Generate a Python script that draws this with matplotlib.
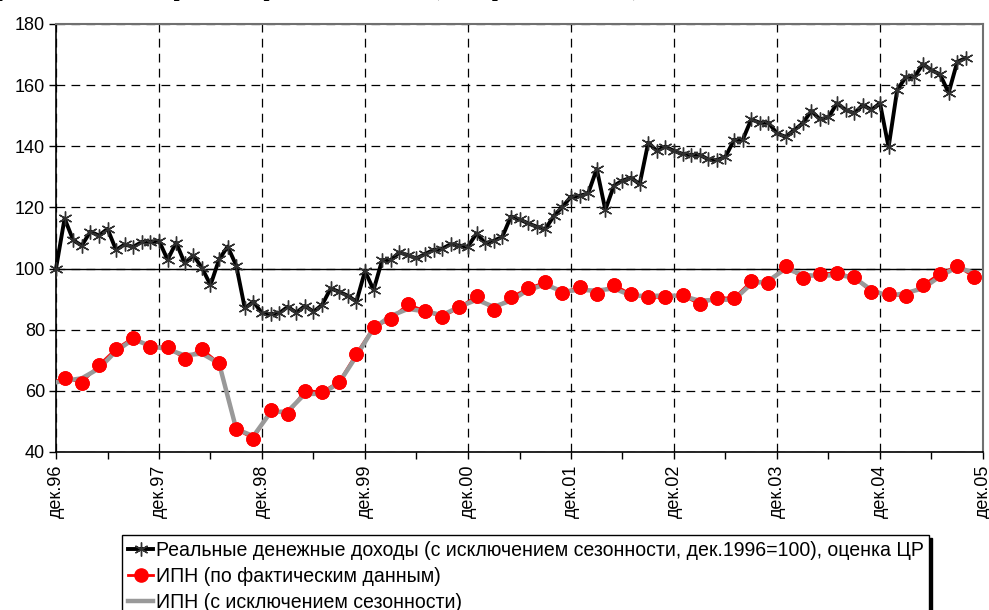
import matplotlib
matplotlib.use("Agg")
import matplotlib.pyplot as plt
import numpy as np

plt.rcParams['font.family'] = ['Liberation Sans', 'DejaVu Sans']

# Months counted from Dec 1996 (0 = дек.96)
income_months = list(range(0, 107))
income = [100.0, 116.4, 109.3, 107.5, 112.1, 110.8, 113.0, 106.1, 107.9, 107.1,
          108.7, 108.8, 109.1, 102.9, 108.5, 101.7, 104.3, 100.3, 94.6, 103.0,
          107.2, 101.0, 87.0, 89.2, 85.4, 85.1, 85.4, 87.5, 85.6, 87.8,
          85.9, 88.1, 93.5, 92.4, 91.1, 89.2, 99.2, 93.0, 102.8, 102.8,
          105.3, 104.4, 103.3, 104.8, 106.1, 106.5, 108.0, 107.5, 107.2, 111.5,
          108.3, 109.1, 110.4, 117.0, 116.1, 114.8, 113.7, 112.9, 117.2, 120.2,
          123.5, 123.8, 124.6, 132.6, 119.2, 127.1, 128.8, 129.7, 127.6, 141.2,
          138.5, 139.9, 138.5, 137.5, 137.2, 137.2, 135.7, 135.5, 136.6, 142.1,
          142.1, 148.8, 147.7, 147.7, 144.2, 143.1, 145.3, 147.5, 151.6, 148.8,
          149.5, 154.1, 151.9, 150.8, 153.5, 151.9, 154.1, 139.7, 158.4, 162.6,
          162.6, 166.9, 164.9, 163.5, 157.5, 167.6, 168.9]

ipn_months = list(range(-1, 108, 2))
ipn_actual = [62.0,
              64.3, 62.7, 68.4, 73.7, 77.4, 74.3, 74.4, 70.5, 73.6, 69.0,
              47.5, 44.4, 53.6, 52.3, 60.1, 59.6, 63.0, 72.1, 80.8, 83.5,
              88.3, 86.1, 84.2, 87.3, 91.0, 86.5, 90.6, 93.5, 95.5, 91.9,
              94.1, 91.8, 94.6, 91.6, 90.6, 90.6, 91.2, 88.4, 90.5, 90.3,
              95.8, 95.4, 100.9, 96.9, 98.3, 98.5, 97.2, 92.3, 91.6, 90.9,
              94.6, 98.3, 100.8, 97.3]
ipn_sa = [62.3,
          63.3, 64.1, 67.3, 73.0, 76.9, 74.7, 73.6, 71.6, 72.2, 69.0,
          47.5, 45.2, 53.0, 53.3, 59.0, 59.0, 62.7, 71.4, 80.5, 84.5,
          86.8, 86.0, 84.8, 87.5, 89.8, 87.5, 89.5, 93.0, 94.8, 92.5,
          93.0, 92.8, 93.5, 91.2, 91.0, 91.2, 91.0, 89.5, 89.8, 89.8,
          95.0, 96.0, 100.0, 98.0, 97.5, 98.0, 97.0, 93.0, 91.0, 92.0,
          93.5, 97.5, 100.5, 98.5]

tick_months = list(range(0, 109, 12))
tick_labels = ["дек.96", "дек.97", "дек.98", "дек.99", "дек.00",
               "дек.01", "дек.02", "дек.03", "дек.04", "дек.05"]

label_income = "Реальные денежные доходы (с исключением сезонности, дек.1996=100), оценка ЦР"
label_actual = "ИПН (по фактическим данным)"
label_sa = "ИПН (с исключением сезонности)"
title = "Индекс потребительских настроений и реальные доходы (декабрь 1996 г. = 100)"

fig = plt.figure(figsize=(9.89, 6.10), dpi=100)
ax = fig.add_axes([56 / 989, (610 - 452) / 610, (983 - 56) / 989, 428 / 610])

ax.set_xlim(0, 108)
ax.set_ylim(40, 180)

# grid
ax.set_yticks(range(40, 181, 20))
ax.set_xticks(tick_months)
ax.set_xticks(range(0, 109, 6), minor=True)
ax.grid(True, which='major', color='black', linestyle=(0, (7, 5)), linewidth=0.9)
ax.axhline(100, color='black', linewidth=1.0, zorder=2)

ax.plot(income_months, income, color='black', linewidth=2.8,
        marker=(6, 2, 0), markersize=10, markeredgecolor='#303030',
        markeredgewidth=1.0, zorder=6, label=label_income, clip_on=False)

ax.plot(ipn_months, ipn_actual, color='#ff0000', linewidth=2.0,
        marker='o', markersize=9.5, markerfacecolor='#ff0000',
        markeredgecolor='#ff0000', markevery=slice(1, None),
        zorder=3, label=label_actual)
ax.plot(ipn_months, ipn_sa, color='#999999', linewidth=3.2, zorder=4,
        label=label_sa)
ax.plot(ipn_months[1:], ipn_actual[1:], linestyle='none', marker='o',
        markersize=9.5, markerfacecolor='#ff0000', markeredgecolor='#ff0000',
        zorder=5)

ax.set_xticklabels(tick_labels, rotation=90, fontsize=13)
ax.tick_params(axis='x', which='both', direction='out', length=5, width=1, pad=4)
ax.tick_params(axis='y', direction='out', length=5, width=1, labelsize=13, pad=3)

for s in ['left', 'bottom']:
    ax.spines[s].set_color('black')
    ax.spines[s].set_linewidth(1.2)
for s in ['top', 'right']:
    ax.spines[s].set_color('#707070')
    ax.spines[s].set_linewidth(1.5)

fig.text(640 / 989, 1.0 + 4 / 610, title, ha='right', va='baseline',
         fontsize=15, fontweight='bold', family=['Liberation Serif', 'DejaVu Serif'])

handles, labels = ax.get_legend_handles_labels()
leg = fig.legend(handles, labels, loc='upper left',
                 bbox_to_anchor=(122 / 989, (610 - 535) / 610),
                 fontsize=14.05, frameon=True, fancybox=False,
                 edgecolor='black', framealpha=1,
                 handlelength=1.3, handletextpad=0.12, labelspacing=0.36,
                 borderpad=0.3, borderaxespad=0,
                 shadow={'color': 'black', 'alpha': 1})
leg.get_frame().set_linewidth(1.0)

fig.savefig("out.png", dpi=100)
